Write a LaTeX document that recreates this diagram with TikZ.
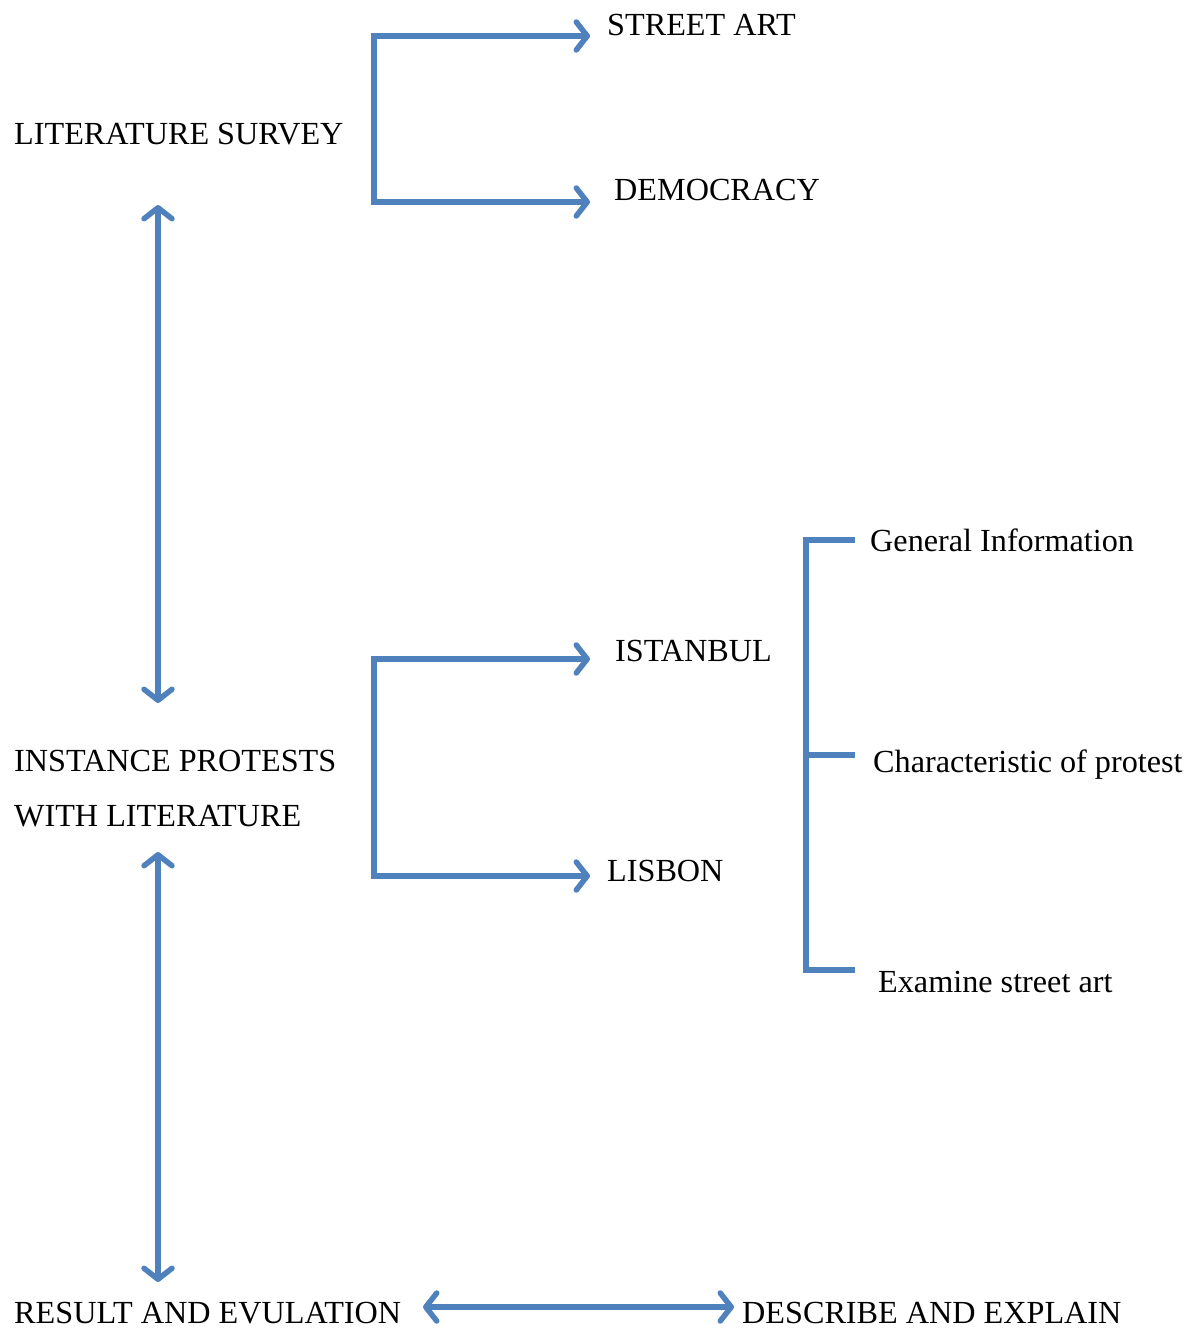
\documentclass[tikz,border=0pt]{standalone}
\usepackage{fontspec}
\setmainfont{Liberation Serif}
\usetikzlibrary{arrows.meta}
\definecolor{lineblue}{HTML}{4F81BD}
\begin{document}
\begin{tikzpicture}[x=1pt,y=-1pt,
  lbl/.style={anchor=base west,inner sep=0pt,font=\fontsize{32.2}{38}\selectfont},
  conn/.style={draw=lineblue,line width=5.5pt,line join=miter,line cap=butt},
  tip/.style={-{Straight Barb[length=11pt,width=28pt,line width=5.5pt,round]}},
  dtip/.style={{Straight Barb[length=11pt,width=28pt,line width=5.5pt,round]}-{Straight Barb[length=11pt,width=28pt,line width=5.5pt,round]}}]
\useasboundingbox (0,0) rectangle (1194,1329);
% labels
\node[lbl] (street) at (607,36) {STREET ART};
\node[lbl] (lit) at (14,145) {LITERATURE SURVEY};
\node[lbl] (demo) at (614,201) {DEMOCRACY};
\node[lbl] (gen) at (870,551) {General Information};
\node[lbl] (ist) at (615,661) {ISTANBUL};
\node[lbl] (inst) at (14,771) {INSTANCE PROTESTS};
\node[lbl] (with) at (14,826) {WITH LITERATURE};
\node[lbl] (char) at (873,772) {Characteristic of protest};
\node[lbl] (lis) at (607,881) {LISBON};
\node[lbl] (exam) at (878,992) {Examine street art};
\node[lbl] (res) at (14,1323) {RESULT AND EVULATION};
\node[lbl] (desc) at (742,1323) {DESCRIBE AND EXPLAIN};
% coordinates
\coordinate (litB) at (158,205);
\coordinate (instT) at (158,703);
\coordinate (withB) at (158,852);
\coordinate (resT) at (158,1282);
\coordinate (resR) at (423,1307);
\coordinate (descL) at (734,1307);
\coordinate (b1top) at (374,36);
\coordinate (b1bot) at (374,202);
\coordinate (streetL) at (590,36);
\coordinate (demoL) at (590,202);
\coordinate (b2top) at (374,659);
\coordinate (b2bot) at (374,876);
\coordinate (istL) at (590,659);
\coordinate (lisL) at (590,876);
\coordinate (b3top) at (806,540);
\coordinate (b3mid) at (806,755);
\coordinate (b3bot) at (806,970);
\coordinate (genL) at (855,540);
\coordinate (charL) at (855,755);
\coordinate (examL) at (855,970);
% connectors
\draw[conn,tip] (b1bot) -- (b1top) -- (streetL);
\draw[conn,tip] (b1top) -- (b1bot) -- (demoL);
\draw[conn,tip] (b2bot) -- (b2top) -- (istL);
\draw[conn,tip] (b2top) -- (b2bot) -- (lisL);
\draw[conn] (genL) -- (b3top) -- (b3bot) -- (examL);
\draw[conn] (b3mid) -- (charL);
\draw[conn,dtip] (litB) -- (instT);
\draw[conn,dtip] (withB) -- (resT);
\draw[conn,dtip] (resR) -- (descL);
\end{tikzpicture}
\end{document}
